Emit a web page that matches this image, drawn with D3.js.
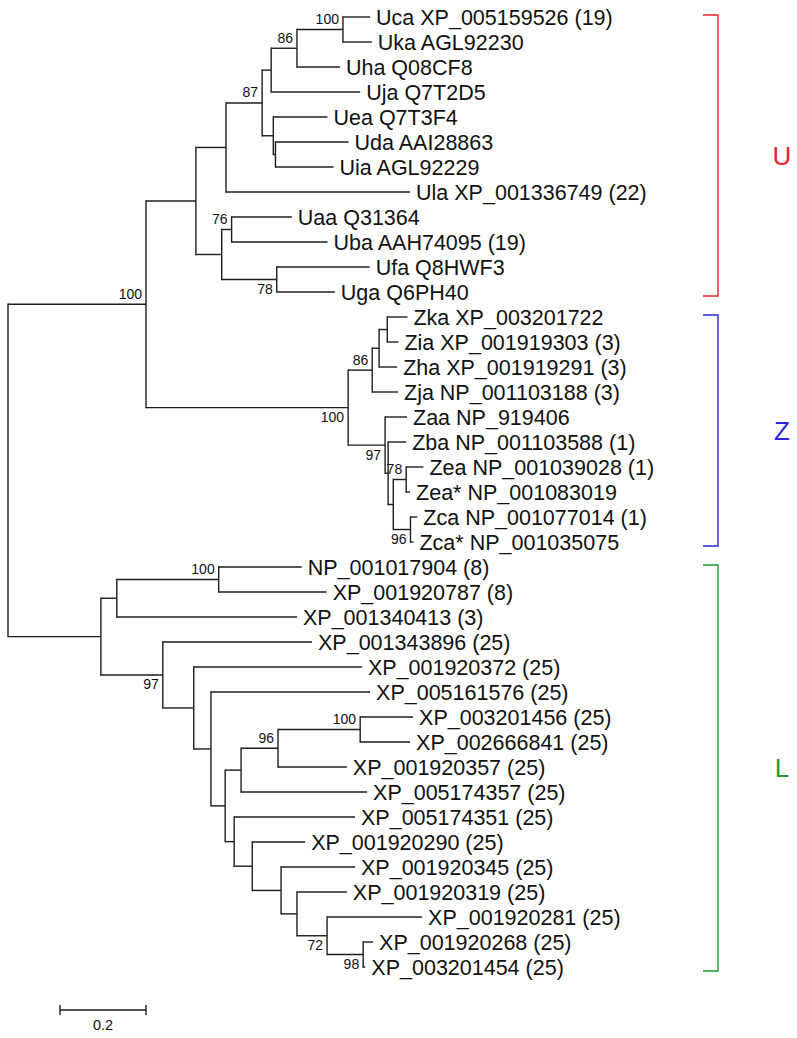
<!DOCTYPE html>
<html>
<head>
<meta charset="utf-8">
<script src="https://cdn.jsdelivr.net/npm/d3@7"></script>
<style>
  body { margin: 0; background: #fff; }
  text { font-family: "Liberation Sans", Arial, Helvetica, sans-serif; }
</style>
</head>
<body>
<div id="container"></div>
<script>

// tree as [node, parent, branch length]; leaves are named by their label
var branches = [
  ["root", "", 0],
  ["uz", "root", 0.321],
  ["u", "uz", 0.116],
  ["ua", "u", 0.070],
  ["u87", "ua", 0.084],
  ["u2", "u87", 0.021],
  ["u86", "u2", 0.060],
  ["u100", "u86", 0.107],
  ["Uca XP_005159526 (19)", "u100", 0.063],
  ["Uka AGL92230", "u100", 0.067],
  ["Uha Q08CF8", "u86", 0.100],
  ["Uja Q7T2D5", "u2", 0.207],
  ["up", "u87", 0.026],
  ["Uea Q7T3F4", "up", 0.126],
  ["uq", "up", 0.005],
  ["Uda AAI28863", "uq", 0.170],
  ["Uia AGL92229", "uq", 0.135],
  ["Ula XP_001336749 (22)", "ua", 0.428],
  ["ub", "u", 0.060],
  ["u76", "ub", 0.023],
  ["Uaa Q31364", "u76", 0.140],
  ["Uba AAH74095 (19)", "u76", 0.223],
  ["u78", "ub", 0.128],
  ["Ufa Q8HWF3", "u78", 0.216],
  ["Uga Q6PH40", "u78", 0.135],
  ["z", "uz", 0.470],
  ["z86", "z", 0.056],
  ["z1a", "z86", 0.016],
  ["z1b", "z1a", 0.019],
  ["Zka XP_003201722", "z1b", 0.047],
  ["Zia XP_001919303 (3)", "z1b", 0.026],
  ["Zha XP_001919291 (3)", "z1a", 0.042],
  ["Zja NP_001103188 (3)", "z86", 0.060],
  ["z97", "z", 0.086],
  ["Zaa NP_919406", "z97", 0.051],
  ["z2a", "z97", 0.007],
  ["Zba NP_001103588 (1)", "z2a", 0.042],
  ["z2b", "z2a", 0.012],
  ["z78", "z2b", 0.030],
  ["Zea NP_001039028 (1)", "z78", 0.040],
  ["Zea* NP_001083019", "z78", 0.009],
  ["z96", "z2b", 0.040],
  ["Zca NP_001077014 (1)", "z96", 0.016],
  ["Zca* NP_001035075", "z96", 0.007],
  ["l", "root", 0.216],
  ["l1", "l", 0.037],
  ["l100", "l1", 0.237],
  ["NP_001017904 (8)", "l100", 0.193],
  ["XP_001920787 (8)", "l100", 0.251],
  ["XP_001340413 (3)", "l1", 0.419],
  ["l97", "l", 0.144],
  ["XP_001343896 (25)", "l97", 0.347],
  ["l3", "l97", 0.072],
  ["XP_001920372 (25)", "l3", 0.391],
  ["l4", "l3", 0.040],
  ["XP_005161576 (25)", "l4", 0.370],
  ["l5", "l4", 0.033],
  ["l6", "l5", 0.037],
  ["l96", "l6", 0.086],
  ["l100b", "l96", 0.191],
  ["XP_003201456 (25)", "l100b", 0.123],
  ["XP_002666841 (25)", "l100b", 0.116],
  ["XP_001920357 (25)", "l96", 0.160],
  ["XP_005174357 (25)", "l6", 0.293],
  ["l7", "l5", 0.021],
  ["XP_005174351 (25)", "l7", 0.281],
  ["l8", "l7", 0.042],
  ["XP_001920290 (25)", "l8", 0.123],
  ["l9", "l8", 0.067],
  ["XP_001920345 (25)", "l9", 0.172],
  ["l10", "l9", 0.037],
  ["XP_001920319 (25)", "l10", 0.116],
  ["l72", "l10", 0.070],
  ["XP_001920281 (25)", "l72", 0.221],
  ["l98", "l72", 0.084],
  ["XP_001920268 (25)", "l98", 0.023],
  ["XP_003201454 (25)", "l98", 0.005]
];

// bootstrap values [node, value]
var bootstrap = [
  ["uz", 100], ["u87", 87], ["u86", 86], ["u100", 100], ["u76", 76], ["u78", 78],
  ["z", 100], ["z86", 86], ["z97", 97], ["z78", 78], ["z96", 96],
  ["l100", 100], ["l97", 97], ["l96", 96], ["l100b", 100], ["l72", 72], ["l98", 98]
];

// clades [name, first leaf, last leaf]
var clades = [
  ["U", "Uca XP_005159526 (19)", "Uga Q6PH40"],
  ["Z", "Zka XP_003201722", "Zca* NP_001035075"],
  ["L", "NP_001017904 (8)", "XP_003201454 (25)"]
];
var cladeColors = ["#e8232b", "#2a28d4", "#1f9a30"];

var scaleBarValue = 0.2;

// support labels drawn under the branch instead of over it
var supportBelow = ["u78", "z", "z97", "z96", "l97", "l72", "l98"];

var width = 797, height = 1038;

var svg = d3.select("#container")
  .append("svg")
  .attr("width", width)
  .attr("height", height);

// build hierarchy
var root = d3.stratify()
  .id(function(d) { return d[0]; })
  .parentId(function(d) { return d[1] === "" ? null : d[1]; })(branches);

// cumulative distance from root
root.eachBefore(function(d) {
  d.dist = d.parent ? d.parent.dist + d.data[2] : 0;
});

var leaves = root.leaves();

var x = d3.scaleLinear().domain([0, 1]).range([8, 438]);
var y = d3.scaleLinear().domain([0, leaves.length - 1]).range([17, 967]);

leaves.forEach(function(d, i) { d.yy = y(i); });
root.eachAfter(function(d) {
  if (d.children) {
    d.yy = (d.children[0].yy + d.children[d.children.length - 1].yy) / 2;
  }
});

var lineColor = "#1e1e1e";
var g = svg.append("g");

// horizontal branches
g.selectAll("line.h")
  .data(root.descendants().filter(function(d) { return d.parent; }))
  .enter()
  .append("line")
  .attr("class", "h")
  .attr("x1", function(d) { return x(d.parent.dist); })
  .attr("x2", function(d) { return x(d.dist); })
  .attr("y1", function(d) { return d.yy; })
  .attr("y2", function(d) { return d.yy; })
  .attr("stroke", lineColor)
  .attr("stroke-width", 1.4);

// vertical connectors
g.selectAll("line.v")
  .data(root.descendants().filter(function(d) { return d.children; }))
  .enter()
  .append("line")
  .attr("class", "v")
  .attr("x1", function(d) { return x(d.dist); })
  .attr("x2", function(d) { return x(d.dist); })
  .attr("y1", function(d) { return d.children[0].yy - 0.7; })
  .attr("y2", function(d) { return d.children[d.children.length - 1].yy + 0.7; })
  .attr("stroke", lineColor)
  .attr("stroke-width", 1.4);

// leaf labels
g.selectAll("text.leaf")
  .data(leaves)
  .enter()
  .append("text")
  .attr("class", "leaf")
  .attr("x", function(d) { return x(d.dist) + 6; })
  .attr("y", function(d) { return d.yy + 7.6; })
  .attr("font-size", "21.5px")
  .attr("fill", "#111")
  .text(function(d) { return d.id; });

// bootstrap labels
var nodeById = {};
root.each(function(d) { nodeById[d.id] = d; });

g.selectAll("text.support")
  .data(bootstrap)
  .enter()
  .append("text")
  .attr("class", "support")
  .attr("text-anchor", "end")
  .attr("x", function(d) { return x(nodeById[d[0]].dist) - 4; })
  .attr("y", function(d) {
    var n = nodeById[d[0]];
    return supportBelow.indexOf(d[0]) >= 0 ? n.yy + 14.5 : n.yy - 5.5;
  })
  .attr("font-size", "14px")
  .attr("fill", "#111")
  .text(function(d) { return d[1]; });

// clade brackets
var bx = 718, tick = 15;
clades.forEach(function(c, i) {
  var y0 = nodeById[c[1]].yy - 2;
  var y1 = nodeById[c[2]].yy + 4;
  svg.append("path")
    .attr("d", "M" + (bx - tick) + "," + y0 + "H" + bx + "V" + y1 + "H" + (bx - tick))
    .attr("fill", "none")
    .attr("stroke", cladeColors[i])
    .attr("stroke-width", 1.4);
  svg.append("text")
    .attr("x", 782)
    .attr("y", (y0 + y1) / 2 + 9)
    .attr("text-anchor", "middle")
    .attr("font-size", "26px")
    .attr("fill", cladeColors[i])
    .text(c[0]);
});

// scale bar
var sb0 = 60, sb1 = sb0 + (x(scaleBarValue) - x(0)), sby = 1010;
svg.append("path")
  .attr("d", "M" + sb0 + "," + sby + "H" + sb1 +
    "M" + sb0 + "," + (sby - 5) + "V" + (sby + 5) +
    "M" + sb1 + "," + (sby - 5) + "V" + (sby + 5))
  .attr("fill", "none")
  .attr("stroke", lineColor)
  .attr("stroke-width", 1.4);
svg.append("text")
  .attr("x", (sb0 + sb1) / 2)
  .attr("y", sby + 20)
  .attr("text-anchor", "middle")
  .attr("font-size", "14.5px")
  .attr("fill", "#111")
  .text(scaleBarValue);

</script>
</body>
</html>
